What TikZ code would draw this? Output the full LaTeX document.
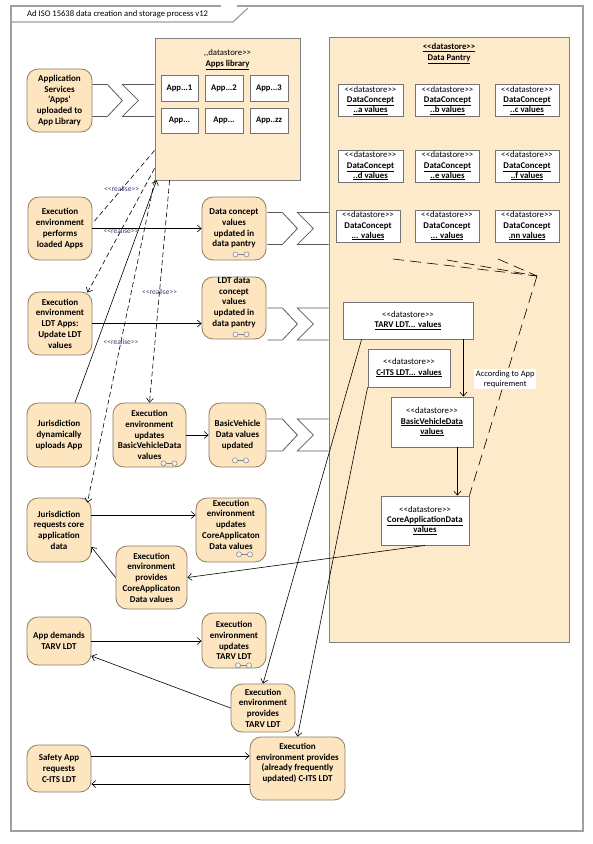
\documentclass[tikz,border=0pt]{standalone}
\usepackage{fontspec}
\newfontfamily\cf{Carlito}
\usetikzlibrary{arrows.meta,calc}
\definecolor{nodefill}{RGB}{253,229,192}
\definecolor{nodeedge}{RGB}{140,125,100}
\definecolor{storefill}{RGB}{253,234,203}
\definecolor{framecol}{RGB}{160,160,160}
\definecolor{lblcol}{RGB}{60,60,110}
\tikzset{
  act/.style={draw=nodeedge, fill=nodefill, rounded corners=11pt, line width=0.8pt, inner sep=1pt, align=center, font=\cf\bfseries\fontsize{9}{10.7}\selectfont},
  txt/.style={inner sep=0pt, align=center, font=\cf\bfseries\fontsize{9}{10.7}\selectfont},
  store/.style={draw=black!50, fill=storefill, line width=0.8pt, inner sep=0pt},
  ibox/.style={draw=black!55, fill=white, line width=0.8pt, inner sep=0pt, align=center, font=\cf\fontsize{8.8}{10.2}\selectfont},
  appbox/.style={ibox, font=\cf\bfseries\fontsize{8.6}{10}\selectfont},
  arr/.style={-{Straight Barb[length=4pt,width=7pt]}, line width=0.6pt},
  real/.style={dash pattern=on 5pt off 3pt, line width=0.6pt},
  realarr/.style={real, -{Straight Barb[length=4pt,width=7pt]}},
  pdash/.style={dash pattern=on 11pt off 6pt, line width=0.6pt},
  rlab/.style={font=\cf\fontsize{7.5}{8}\selectfont, text=lblcol, inner sep=0.5pt},
  chev/.style={draw=black!65, line width=0.8pt},
  framel/.style={draw=framecol, line width=1.2pt},
}
\newcommand\rakesym[1]{%
  \draw[gray, line width=0.5pt] ($#1+(-5.5,0)$) -- ($#1+(5.5,0)$);
  \draw[gray, fill=gray!12, line width=0.5pt] ($#1+(-5.5,0)$) circle (2.6) ($#1+(5.5,0)$) circle (2.6);}
\newcommand\flowchev[2]{%
  \draw[chev] ($#1+(0,-16)$) -- ++(15,0) -- ++(15,16) -- ++(-15,16) -- ++(-15,0);
  \draw[chev] ($#2+(0,-16)$) -- ($#1+(30,-16)$) -- ($#1+(46,0)$) -- ($#1+(30,16)$) -- ($#2+(0,16)$);}
\begin{document}
\begin{tikzpicture}[x=1pt,y=-1pt]
\useasboundingbox (0,0) rectangle (593,844);
% frame
\draw[framel] (221,6) -- (11,6) -- (11,831) -- (583,831) -- (583,6) -- (237,6);
\draw[framel] (11,22) -- (233,22) -- (248,8);
\node[anchor=west, inner sep=0pt, font=\cf\fontsize{8.6}{10}\selectfont] (title) at (27,14.5) {Ad ISO 15638 data creation and storage process v12};

% containers
\node[store, minimum width=145, minimum height=142] (lib) at (227.5,109) {};
\node[inner sep=0pt, align=center, font=\cf\fontsize{8.8}{11.5}\selectfont, anchor=north] (libt) at (227.5,49) {,,datastore>>\\\textbf{\underline{Apps library}}};
\node[store, minimum width=240, minimum height=605] (pan) at (449,339.5) {};
\node[inner sep=0pt, align=center, font=\cf\bfseries\fontsize{8.8}{11.5}\selectfont, anchor=north] (pant) at (449,43) {\underline{<<datastore>>}\\\underline{Data Pantry}};

% app boxes
\node[appbox, minimum width=37, minimum height=26] (a1) at (179.5,88) {App...1};
\node[appbox, minimum width=38, minimum height=26] (a2) at (224,88) {App...2};
\node[appbox, minimum width=38, minimum height=26] (a3) at (269,88) {App...3};
\node[appbox, minimum width=37, minimum height=25] (a4) at (179.5,120.5) {App...};
\node[appbox, minimum width=38, minimum height=25] (a5) at (224,120.5) {App...};
\node[appbox, minimum width=38, minimum height=25] (a6) at (269,120.5) {App..zz};

% data concept boxes
\node[ibox, minimum width=65, minimum height=32] (dc1) at (370.5,100.5) {<<datastore>>\\\textbf{\underline{DataConcept}}\\\textbf{\underline{..a values}}};
\node[ibox, minimum width=64, minimum height=32] (dc2) at (447.5,100.5) {<<datastore>>\\\textbf{\underline{DataConcept}}\\\textbf{\underline{..b values}}};
\node[ibox, minimum width=64, minimum height=32] (dc3) at (527,100.5) {<<datastore>>\\\textbf{\underline{DataConcept}}\\\textbf{\underline{..c values}}};
\node[ibox, minimum width=65, minimum height=32] (dc4) at (370.5,166) {<<datastore>>\\\textbf{\underline{DataConcept}}\\\textbf{\underline{..d values}}};
\node[ibox, minimum width=64, minimum height=32] (dc5) at (447.5,166) {<<datastore>>\\\textbf{\underline{DataConcept}}\\\textbf{\underline{..e values}}};
\node[ibox, minimum width=64, minimum height=32] (dc6) at (527,166) {<<datastore>>\\\textbf{\underline{DataConcept}}\\\textbf{\underline{..f values}}};
\node[ibox, minimum width=64, minimum height=32] (dc7) at (368,226) {<<datastore>>\\\textbf{DataConcept}\\\textbf{\underline{... values}}};
\node[ibox, minimum width=64, minimum height=32] (dc8) at (447,226) {<<datastore>>\\\textbf{DataConcept}\\\textbf{\underline{... values}}};
\node[ibox, minimum width=64, minimum height=32] (dc9) at (527,226) {<<datastore>>\\\textbf{DataConcept}\\\textbf{\underline{.nn values}}};

% LDT stores
\node[ibox, minimum width=130, minimum height=37] (tarv) at (408,320.5) {<<datastore>>\\\textbf{\underline{TARV LDT... values}}};
\node[ibox, minimum width=82, minimum height=38] (cits) at (409,368) {<<datastore>>\\\textbf{\underline{C-ITS LDT... values}}};
\node[ibox, minimum width=82, minimum height=50] (basic) at (432,422) {<<datastore>>\\\textbf{\underline{BasicVehicleData}}\\\textbf{\underline{values}}};
\node[ibox, minimum width=88, minimum height=49] (core) at (425,520.5) {<<datastore>>\\\textbf{\underline{CoreApplicationData}}\\\textbf{\underline{values}}};

% activity nodes
\node[act, minimum width=65, minimum height=63] (n1) at (59.5,100.5) {Application\\Services\\‘Apps’\\uploaded to\\App Library};
\node[act, minimum width=64, minimum height=63] (n2) at (60,228.5) {Execution\\environment\\performs\\loaded Apps};
\node[act, minimum width=64, minimum height=63] (n3) at (234,228.5) {Data concept\\values\\updated in\\data pantry};
\node[act, minimum width=64, minimum height=63] (n4) at (60,323.5) {Execution\\environment\\LDT Apps:\\Update LDT\\values};
\node[act, minimum width=64, minimum height=62] (n5) at (234,308) {};
\node[txt] (n5t) at (234,302.5) {LDT data\\concept\\values\\updated in\\data pantry};
\node[act, minimum width=64, minimum height=64] (n6) at (59,435) {Jurisdiction\\dynamically\\uploads App};
\node[act, minimum width=73, minimum height=64] (n7) at (149.5,435) {Execution\\environment\\updates\\BasicVehicleData\\values};
\node[act, minimum width=57, minimum height=64] (n8) at (237.5,435) {BasicVehicle\\Data values\\updated};
\node[act, minimum width=64, minimum height=64] (n9) at (59,530) {Jurisdiction\\requests core\\application\\data};
\node[act, minimum width=70, minimum height=64] (n10) at (231,530) {};
\node[txt] (n10t) at (231,524.5) {Execution\\environment\\updates\\CoreApplicaton\\Data values};
\node[act, minimum width=71, minimum height=63] (n11) at (151.5,577.5) {Execution\\environment\\provides\\CoreApplicaton\\Data values};
\node[act, minimum width=64, minimum height=48] (n12) at (59,641) {App demands\\TARV LDT};
\node[act, minimum width=64, minimum height=55] (n13) at (234,640.5) {Execution\\environment\\updates\\TARV LDT};
\node[act, minimum width=64, minimum height=48] (n14) at (263,708) {Execution\\environment\\provides\\TARV LDT};
\node[act, minimum width=64, minimum height=47] (n15) at (59,768.5) {Safety App\\requests\\C-ITS LDT};
\node[act, minimum width=95, minimum height=63] (n16) at (297.5,768.5) {};
\node[txt] (n16t) at (297.5,763) {Execution\\environment provides\\(already frequently\\updated) C-ITS LDT};

% rake symbols
\rakesym{($(n3.south)+(7,-6)$)}
\rakesym{($(n5.south)+(7,-5)$)}
\rakesym{($(n7.south)+(19.5,-4)$)}
\rakesym{($(n8.south)+(3,-7)$)}
\rakesym{($(n10.south)+(13.5,-8)$)}
\rakesym{($(n13.south)+(9.5,-3)$)}

% flow chevrons
\flowchev{(n1.east)}{(lib.west |- n1.east)}
\flowchev{($(n3.east)+(1,0)$)}{(pan.west |- n3.east)}
\flowchev{($(n5.east)+(1,16)$)}{($(pan.west |- n5.east)+(0,16)$)}
\flowchev{($(n8.east)+(1,0)$)}{(pan.west |- n8.east)}

% realise dependencies
\coordinate (d1s) at ($(lib.south west)+(0,-30)$);
\coordinate (d2s) at ($(lib.south west)+(0,-12)$);
\coordinate (d3s) at ($(lib.south west)+(15,0)$);
\draw[real] (d1s) -- node[rlab, pos=0.53] (r1) {<<realise>>} ($(n2.east)+(0,-5)$);
\draw[realarr] (d2s) -- node[rlab, pos=0.5] (r2) {<<realise>>} ($(n4.north east)+(-5,1)$);
\draw[realarr] (d3s) -- node[rlab, pos=0.5] (r3) {<<realise>>} (n7.north);
\draw[realarr] (lib.south west) -- node[rlab, pos=0.5] (r4) {<<realise>>} ($(n9.north east)+(-4,5)$);
\draw[arr] ($(n6.north)+(16,0)$) -- ($(lib.south west)+(2,0)$);

% activity flows
\draw[arr] (n2.east) -- (n2.east -| n3.west);
\draw[arr] (n4.east) -- (n4.east -| n5.west);
\draw[arr] (n7.east) -- (n7.east -| n8.west);
\draw[arr] ($(n9.east)+(0,-15)$) coordinate (n9o) -- (n9o -| n10.west);
\draw[arr] (n11.west) -- ($(n9.east)+(0,17)$);
\draw[arr] (core.south) -- (n11.east);
\draw[arr] (n12.east) -- (n12.east -| n13.west);
\draw[arr] (n14.west) -- ($(n12.east)+(0,15)$);
\draw[arr] ($(tarv.south west)+(19,0)$) -- (n14.north);
\draw[arr] (cits.south west) -- (n16.north);
\draw[arr] ($(n15.east)+(0,-12.5)$) coordinate (n15o) -- (n15o -| n16.west);
\draw[arr] ($(n16.west)+(0,15.5)$) coordinate (n16o) -- (n16o -| n15.east);

% store flows
\draw[arr] ($(tarv.south east)+(-10,0)$) coordinate (tb) -- (tb |- basic.north);
\draw[arr] ($(basic.south east)+(-16,0)$) coordinate (bc) -- (bc |- core.north);

% dependencies in data pantry
\coordinate (bend) at (537,276);
\coordinate (pa) at (393,259);
\coordinate (pb) at (447,260);
\coordinate (pc) at (498,259);
\draw[pdash] (pa) -- (bend);
\draw[pdash] (pb) -- (bend);
\draw[pdash] (pc) -- (bend);
\draw[pdash] (bend) -- node[pos=0.47, fill=white, inner sep=1.5pt, align=center, font=\cf\fontsize{8.4}{10}\selectfont] (acc) {According to App\\requirement} (core.north east);
\end{tikzpicture}
\end{document}
